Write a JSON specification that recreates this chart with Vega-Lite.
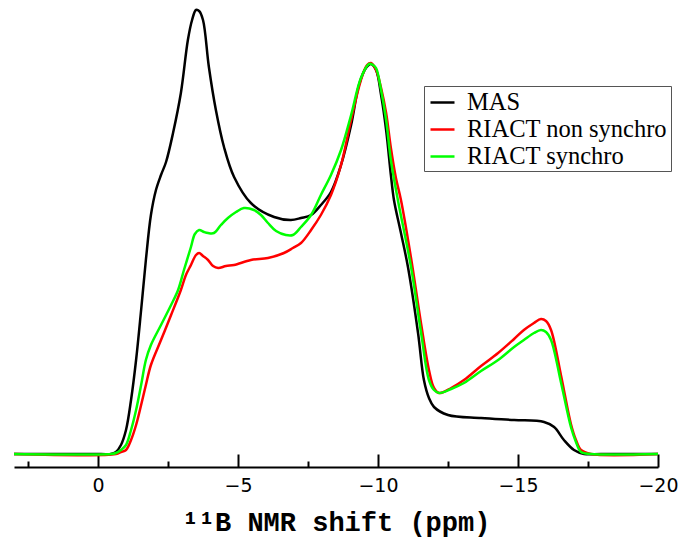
{
 "$schema": "https://vega.github.io/schema/vega-lite/v6.json",
 "width": 644, "height": 467,
 "autosize": {"type": "none"},
 "padding": {"left": 14, "top": 0, "right": 25, "bottom": 74},
 "background": "white",
 "config": {"view": {"stroke": null}},
 "data": {"values": [
  {"s":"MAS","ppm":3.0,"i":0},{"s":"MAS","ppm":-0.11,"i":0},{"s":"MAS","ppm":-0.46,"i":0},{"s":"MAS","ppm":-0.64,"i":2},{"s":"MAS","ppm":-0.82,"i":9},{"s":"MAS","ppm":-1.00,"i":24},{"s":"MAS","ppm":-1.18,"i":54},{"s":"MAS","ppm":-1.36,"i":94},{"s":"MAS","ppm":-1.54,"i":144},{"s":"MAS","ppm":-1.71,"i":194},{"s":"MAS","ppm":-1.89,"i":239},{"s":"MAS","ppm":-2.07,"i":264},{"s":"MAS","ppm":-2.25,"i":279},{"s":"MAS","ppm":-2.43,"i":292},{"s":"MAS","ppm":-2.68,"i":321},{"s":"MAS","ppm":-2.96,"i":361},{"s":"MAS","ppm":-3.21,"i":414},{"s":"MAS","ppm":-3.36,"i":434},{"s":"MAS","ppm":-3.50,"i":444},{"s":"MAS","ppm":-3.61,"i":443},{"s":"MAS","ppm":-3.75,"i":434},{"s":"MAS","ppm":-3.96,"i":387},{"s":"MAS","ppm":-4.21,"i":344},{"s":"MAS","ppm":-4.50,"i":307},{"s":"MAS","ppm":-4.86,"i":277},{"s":"MAS","ppm":-5.46,"i":251},{"s":"MAS","ppm":-6.29,"i":237},{"s":"MAS","ppm":-6.89,"i":234},{"s":"MAS","ppm":-7.25,"i":236},{"s":"MAS","ppm":-7.61,"i":239},{"s":"MAS","ppm":-7.96,"i":249},{"s":"MAS","ppm":-8.32,"i":262},{"s":"MAS","ppm":-8.68,"i":289},{"s":"MAS","ppm":-9.04,"i":329},{"s":"MAS","ppm":-9.32,"i":369},{"s":"MAS","ppm":-9.57,"i":386},{"s":"MAS","ppm":-9.75,"i":390},{"s":"MAS","ppm":-9.93,"i":384},{"s":"MAS","ppm":-10.11,"i":359},{"s":"MAS","ppm":-10.29,"i":324},{"s":"MAS","ppm":-10.46,"i":279},{"s":"MAS","ppm":-10.57,"i":254},{"s":"MAS","ppm":-10.82,"i":221},{"s":"MAS","ppm":-11.07,"i":187},{"s":"MAS","ppm":-11.43,"i":121},{"s":"MAS","ppm":-11.64,"i":74},{"s":"MAS","ppm":-11.82,"i":56},{"s":"MAS","ppm":-12.00,"i":47},{"s":"MAS","ppm":-12.50,"i":39},{"s":"MAS","ppm":-13.68,"i":36},{"s":"MAS","ppm":-14.86,"i":34},{"s":"MAS","ppm":-15.93,"i":32},{"s":"MAS","ppm":-16.29,"i":27},{"s":"MAS","ppm":-16.64,"i":14},{"s":"MAS","ppm":-17.00,"i":4},{"s":"MAS","ppm":-17.36,"i":0},{"s":"MAS","ppm":-17.96,"i":0},{"s":"MAS","ppm":-20.0,"i":0},

  {"s":"RIACT non synchro","ppm":3.0,"i":0},{"s":"RIACT non synchro","ppm":-0.64,"i":0},{"s":"RIACT non synchro","ppm":-0.82,"i":2},{"s":"RIACT non synchro","ppm":-1.00,"i":4},{"s":"RIACT non synchro","ppm":-1.18,"i":14},{"s":"RIACT non synchro","ppm":-1.36,"i":29},{"s":"RIACT non synchro","ppm":-1.54,"i":49},{"s":"RIACT non synchro","ppm":-1.71,"i":69},{"s":"RIACT non synchro","ppm":-1.89,"i":89},{"s":"RIACT non synchro","ppm":-2.25,"i":114},{"s":"RIACT non synchro","ppm":-2.61,"i":139},{"s":"RIACT non synchro","ppm":-2.96,"i":164},{"s":"RIACT non synchro","ppm":-3.14,"i":179},{"s":"RIACT non synchro","ppm":-3.32,"i":189},{"s":"RIACT non synchro","ppm":-3.50,"i":199},{"s":"RIACT non synchro","ppm":-3.61,"i":201},{"s":"RIACT non synchro","ppm":-3.75,"i":198},{"s":"RIACT non synchro","ppm":-3.93,"i":194},{"s":"RIACT non synchro","ppm":-4.11,"i":188},{"s":"RIACT non synchro","ppm":-4.29,"i":186},{"s":"RIACT non synchro","ppm":-4.57,"i":188},{"s":"RIACT non synchro","ppm":-4.86,"i":189},{"s":"RIACT non synchro","ppm":-5.46,"i":194},{"s":"RIACT non synchro","ppm":-6.07,"i":196},{"s":"RIACT non synchro","ppm":-6.64,"i":201},{"s":"RIACT non synchro","ppm":-6.96,"i":206},{"s":"RIACT non synchro","ppm":-7.25,"i":211},{"s":"RIACT non synchro","ppm":-7.61,"i":224},{"s":"RIACT non synchro","ppm":-7.96,"i":239},{"s":"RIACT non synchro","ppm":-8.32,"i":259},{"s":"RIACT non synchro","ppm":-8.68,"i":289},{"s":"RIACT non synchro","ppm":-9.04,"i":334},{"s":"RIACT non synchro","ppm":-9.39,"i":374},{"s":"RIACT non synchro","ppm":-9.61,"i":389},{"s":"RIACT non synchro","ppm":-9.75,"i":391},{"s":"RIACT non synchro","ppm":-9.93,"i":384},{"s":"RIACT non synchro","ppm":-10.11,"i":366},{"s":"RIACT non synchro","ppm":-10.29,"i":341},{"s":"RIACT non synchro","ppm":-10.46,"i":306},{"s":"RIACT non synchro","ppm":-10.64,"i":276},{"s":"RIACT non synchro","ppm":-10.82,"i":254},{"s":"RIACT non synchro","ppm":-11.18,"i":196},{"s":"RIACT non synchro","ppm":-11.54,"i":130},{"s":"RIACT non synchro","ppm":-11.82,"i":84},{"s":"RIACT non synchro","ppm":-12.00,"i":66},{"s":"RIACT non synchro","ppm":-12.18,"i":61},{"s":"RIACT non synchro","ppm":-12.61,"i":66},{"s":"RIACT non synchro","ppm":-13.07,"i":74},{"s":"RIACT non synchro","ppm":-13.68,"i":88},{"s":"RIACT non synchro","ppm":-14.29,"i":101},{"s":"RIACT non synchro","ppm":-14.86,"i":115},{"s":"RIACT non synchro","ppm":-15.21,"i":124},{"s":"RIACT non synchro","ppm":-15.57,"i":131},{"s":"RIACT non synchro","ppm":-15.82,"i":135},{"s":"RIACT non synchro","ppm":-16.00,"i":133},{"s":"RIACT non synchro","ppm":-16.18,"i":124},{"s":"RIACT non synchro","ppm":-16.54,"i":78},{"s":"RIACT non synchro","ppm":-16.89,"i":30},{"s":"RIACT non synchro","ppm":-17.07,"i":14},{"s":"RIACT non synchro","ppm":-17.25,"i":4},{"s":"RIACT non synchro","ppm":-17.61,"i":0},{"s":"RIACT non synchro","ppm":-20.0,"i":0},

  {"s":"RIACT synchro","ppm":3.0,"i":0},{"s":"RIACT synchro","ppm":-0.46,"i":0},{"s":"RIACT synchro","ppm":-0.64,"i":1},{"s":"RIACT synchro","ppm":-0.82,"i":4},{"s":"RIACT synchro","ppm":-1.00,"i":9},{"s":"RIACT synchro","ppm":-1.18,"i":24},{"s":"RIACT synchro","ppm":-1.36,"i":44},{"s":"RIACT synchro","ppm":-1.54,"i":69},{"s":"RIACT synchro","ppm":-1.71,"i":94},{"s":"RIACT synchro","ppm":-1.89,"i":109},{"s":"RIACT synchro","ppm":-2.25,"i":129},{"s":"RIACT synchro","ppm":-2.61,"i":149},{"s":"RIACT synchro","ppm":-2.86,"i":164},{"s":"RIACT synchro","ppm":-3.07,"i":184},{"s":"RIACT synchro","ppm":-3.32,"i":207},{"s":"RIACT synchro","ppm":-3.46,"i":220},{"s":"RIACT synchro","ppm":-3.61,"i":224},{"s":"RIACT synchro","ppm":-3.79,"i":222},{"s":"RIACT synchro","ppm":-3.93,"i":221},{"s":"RIACT synchro","ppm":-4.14,"i":221},{"s":"RIACT synchro","ppm":-4.39,"i":229},{"s":"RIACT synchro","ppm":-4.64,"i":236},{"s":"RIACT synchro","ppm":-4.93,"i":242},{"s":"RIACT synchro","ppm":-5.21,"i":246},{"s":"RIACT synchro","ppm":-5.57,"i":244},{"s":"RIACT synchro","ppm":-5.82,"i":239},{"s":"RIACT synchro","ppm":-6.07,"i":231},{"s":"RIACT synchro","ppm":-6.36,"i":223},{"s":"RIACT synchro","ppm":-6.71,"i":219},{"s":"RIACT synchro","ppm":-6.96,"i":219},{"s":"RIACT synchro","ppm":-7.25,"i":227},{"s":"RIACT synchro","ppm":-7.61,"i":239},{"s":"RIACT synchro","ppm":-7.96,"i":259},{"s":"RIACT synchro","ppm":-8.32,"i":279},{"s":"RIACT synchro","ppm":-8.68,"i":304},{"s":"RIACT synchro","ppm":-9.04,"i":339},{"s":"RIACT synchro","ppm":-9.39,"i":376},{"s":"RIACT synchro","ppm":-9.68,"i":390},{"s":"RIACT synchro","ppm":-9.82,"i":389},{"s":"RIACT synchro","ppm":-9.93,"i":386},{"s":"RIACT synchro","ppm":-10.11,"i":364},{"s":"RIACT synchro","ppm":-10.29,"i":334},{"s":"RIACT synchro","ppm":-10.46,"i":294},{"s":"RIACT synchro","ppm":-10.71,"i":254},{"s":"RIACT synchro","ppm":-11.18,"i":187},{"s":"RIACT synchro","ppm":-11.54,"i":121},{"s":"RIACT synchro","ppm":-11.82,"i":74},{"s":"RIACT synchro","ppm":-12.00,"i":64},{"s":"RIACT synchro","ppm":-12.18,"i":61},{"s":"RIACT synchro","ppm":-12.61,"i":65},{"s":"RIACT synchro","ppm":-13.07,"i":71},{"s":"RIACT synchro","ppm":-13.68,"i":83},{"s":"RIACT synchro","ppm":-14.29,"i":94},{"s":"RIACT synchro","ppm":-14.86,"i":107},{"s":"RIACT synchro","ppm":-15.21,"i":114},{"s":"RIACT synchro","ppm":-15.57,"i":121},{"s":"RIACT synchro","ppm":-15.82,"i":124},{"s":"RIACT synchro","ppm":-16.00,"i":122},{"s":"RIACT synchro","ppm":-16.18,"i":114},{"s":"RIACT synchro","ppm":-16.54,"i":71},{"s":"RIACT synchro","ppm":-16.89,"i":27},{"s":"RIACT synchro","ppm":-17.07,"i":12},{"s":"RIACT synchro","ppm":-17.25,"i":2},{"s":"RIACT synchro","ppm":-17.61,"i":0},{"s":"RIACT synchro","ppm":-20.0,"i":0}
 ]},
 "mark": {"type": "line", "interpolate": "catmull-rom", "strokeWidth": 2.5},
 "encoding": {
  "x": {"field": "ppm", "type": "quantitative",
   "scale": {"domain": [-20, 3], "reverse": true, "nice": false, "zero": false},
   "axis": {
    "values": [2.5, 0, -2.5, -5, -7.5, -10, -12.5, -15, -17.5, -20],
    "grid": false,
    "domainColor": "black", "domainWidth": 2,
    "tickColor": "black", "tickWidth": 2,
    "tickSize": {"condition": {"test": "datum.value % 5 === 0", "value": -13}, "value": -6},
    "labelExpr": "datum.value % 5 === 0 ? datum.label : ''",
    "labelFont": "DejaVu Sans", "labelFontSize": 19, "labelColor": "black",
    "labelPadding": 22, "labelFlush": false, "labelOverlap": false,
    "title": "¹¹B NMR shift (ppm)",
    "titleFont": "Liberation Mono", "titleFontSize": 27, "titleFontWeight": "bold", "titleColor": "black",
    "titlePadding": 7
   }
  },
  "y": {"field": "i", "type": "quantitative", "scale": {"domain": [-13, 454], "nice": false, "zero": false}, "axis": null},
  "color": {"field": "s", "type": "nominal",
   "scale": {"domain": ["MAS", "RIACT non synchro", "RIACT synchro"], "range": ["#000000", "#ff0000", "#00ff00"]},
   "legend": {"orient": "none", "legendX": 410, "legendY": 86, "title": null,
    "symbolType": "stroke", "symbolSize": 576, "symbolStrokeWidth": 2.5, "symbolOffset": 2,
    "labelFont": "Liberation Serif", "labelFontSize": 24.5, "labelColor": "black", "labelOffset": 11, "labelLimit": 400,
    "rowPadding": 2, "padding": 3, "strokeColor": "#555555", "fillColor": "white"}
  },
  "order": {"field": "ppm", "sort": "descending"}
 }
}
